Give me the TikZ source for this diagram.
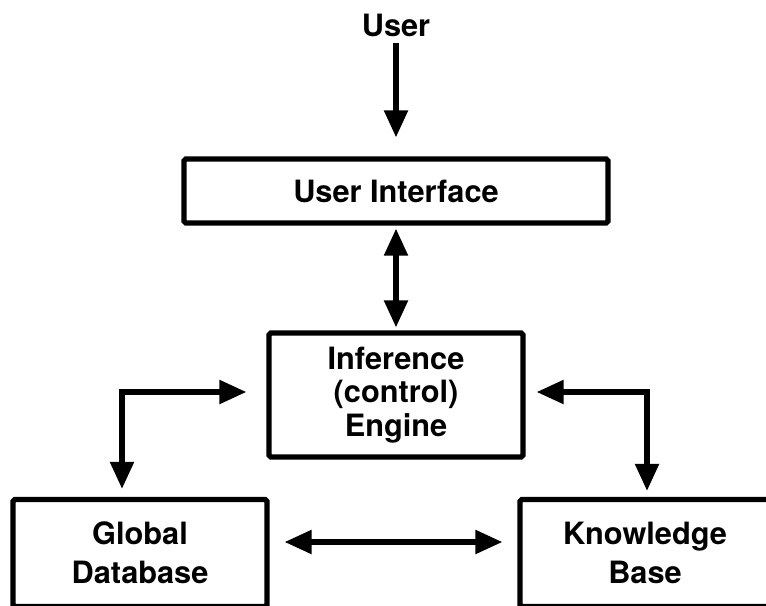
\documentclass[tikz,border=0pt]{standalone}
\usepackage{fontspec}
\setmainfont{TeX Gyre Heros}
\usepackage{tikz}
\usetikzlibrary{arrows.meta, positioning}

\begin{document}
\begin{tikzpicture}[x=0.02cm, y=-0.02cm,
  every node/.style={font=\fontsize{17.5}{22}\selectfont\bfseries, align=center},
  block/.style={draw, line width=3pt, rounded corners=1pt, inner sep=0pt},
  flow/.style={line width=3pt, -{Triangle[length=0.54cm, width=0.46cm]}},
  dflow/.style={line width=3pt,
    {Triangle[length=0.54cm, width=0.46cm]}-{Triangle[length=0.54cm, width=0.46cm]}}]

  % page frame (lower boxes run off the edge)
  \useasboundingbox (0,0) rectangle (766,605);
  \clip (0,0) rectangle (766,605);

  % --- Blocks ---------------------------------------------------
  \node (user) at (396,25) {User};
  \node[block, minimum width=8.48cm, minimum height=1.28cm] (ui) at (396,191)
    {User Interface};
  \node[block, minimum width=5.08cm, minimum height=2.48cm,
        font=\fontsize{17.5}{19}\selectfont\bfseries] (engine) at (396,395)
    {Inference\\(control)\\Engine};
  \node[block, minimum width=5.08cm, minimum height=2.14cm] (gdb) at (140,553)
    {Global\\Database};
  \node[block, minimum width=5cm, minimum height=2.14cm] (kb) at (645,553)
    {Knowledge\\Base};

  % bends of the side links
  \coordinate (lbend) at (122,392);
  \coordinate (rbend) at (647,392);

  % --- Links ----------------------------------------------------
  \draw[flow, shorten >=0.38cm] (user) -- (ui);
  \draw[dflow, shorten <=0.06cm, shorten >=0.06cm] (ui) -- (engine);
  \draw[dflow, shorten <=0.4cm, shorten >=0.16cm]
    (engine.west |- lbend) -- (lbend) -- (lbend |- gdb.north);
  \draw[dflow, shorten <=0.22cm, shorten >=0.12cm]
    (engine.east |- rbend) -- (rbend) -- (rbend |- kb.north);
  \draw[dflow, shorten <=0.3cm, shorten >=0.3cm]
    ([yshift=0.22cm]gdb.east) -- ([yshift=0.22cm]kb.west);
\end{tikzpicture}
\end{document}
